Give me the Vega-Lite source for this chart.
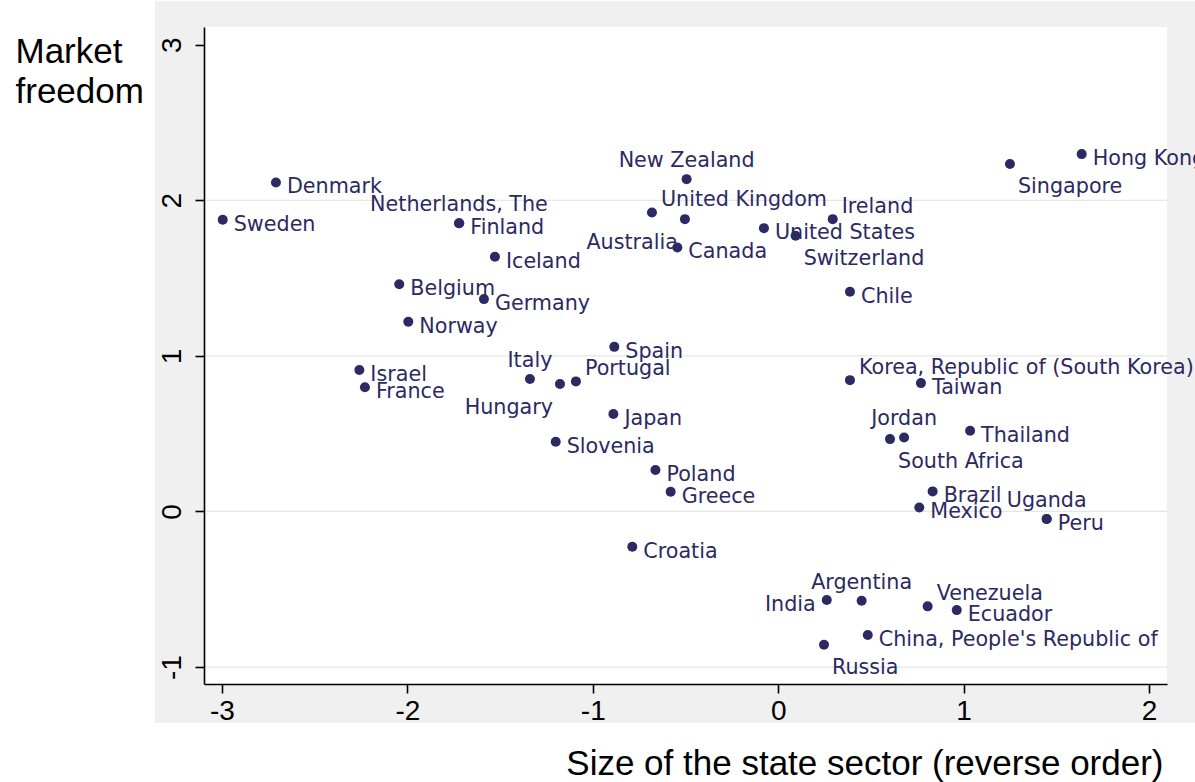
{
  "$schema": "https://vega.github.io/schema/vega-lite/v6.json",
  "width": 963,
  "height": 657,
  "autosize": {"type": "none"},
  "padding": {"left": 204, "top": 27, "right": 28, "bottom": 98},
  "background": "white",
  "config": {
    "view": {"stroke": null},
    "text": {"font": "DejaVu Sans", "fontSize": 20.7, "fill": "#2b2a62"}
  },
  "datasets": {
    "grid": [{"tick": -1}, {"tick": 0}, {"tick": 1}, {"tick": 2}],
    "countries": [
      {"country": "Sweden", "state": -2.996, "market": 1.875},
      {"country": "Denmark", "state": -2.709, "market": 2.115},
      {"country": "Netherlands, The", "state": -1.722, "market": 1.853},
      {"country": "Finland", "state": -1.720, "market": 1.852},
      {"country": "Iceland", "state": -1.528, "market": 1.637},
      {"country": "Belgium", "state": -2.044, "market": 1.461},
      {"country": "Germany", "state": -1.587, "market": 1.365},
      {"country": "Norway", "state": -1.995, "market": 1.219},
      {"country": "Spain", "state": -0.884, "market": 1.058},
      {"country": "Israel", "state": -2.259, "market": 0.909},
      {"country": "France", "state": -2.229, "market": 0.798},
      {"country": "Italy", "state": -1.339, "market": 0.851},
      {"country": "Hungary", "state": -1.177, "market": 0.819},
      {"country": "Portugal", "state": -1.091, "market": 0.836},
      {"country": "Japan", "state": -0.889, "market": 0.626},
      {"country": "Slovenia", "state": -1.200, "market": 0.448},
      {"country": "Poland", "state": -0.662, "market": 0.266},
      {"country": "Greece", "state": -0.580, "market": 0.127},
      {"country": "Croatia", "state": -0.787, "market": -0.227},
      {"country": "New Zealand", "state": -0.494, "market": 2.136},
      {"country": "United Kingdom", "state": -0.681, "market": 1.922},
      {"country": "Australia", "state": -0.503, "market": 1.879},
      {"country": "Canada", "state": -0.544, "market": 1.697},
      {"country": "United States", "state": -0.077, "market": 1.821},
      {"country": "Switzerland", "state": 0.094, "market": 1.772},
      {"country": "Ireland", "state": 0.294, "market": 1.879},
      {"country": "Chile", "state": 0.387, "market": 1.412},
      {"country": "Hong Kong", "state": 1.637, "market": 2.297},
      {"country": "Singapore", "state": 1.250, "market": 2.233},
      {"country": "Korea, Republic of (South Korea)", "state": 0.387, "market": 0.844},
      {"country": "Taiwan", "state": 0.770, "market": 0.825},
      {"country": "Jordan", "state": 0.679, "market": 0.476},
      {"country": "South Africa", "state": 0.603, "market": 0.465},
      {"country": "Thailand", "state": 1.035, "market": 0.519},
      {"country": "Brazil", "state": 0.833, "market": 0.129},
      {"country": "Mexico", "state": 0.761, "market": 0.026},
      {"country": "Uganda", "state": 1.448, "market": -0.048},
      {"country": "Peru", "state": 1.448, "market": -0.049},
      {"country": "Argentina", "state": 0.450, "market": -0.574},
      {"country": "India", "state": 0.262, "market": -0.569},
      {"country": "Venezuela", "state": 0.806, "market": -0.610},
      {"country": "Ecuador", "state": 0.963, "market": -0.634},
      {"country": "China, People's Republic of", "state": 0.483, "market": -0.794},
      {"country": "Russia", "state": 0.247, "market": -0.857}
    ]
  },
  "data": {"name": "countries"},
  "layer": [
    {
      "mark": {"type": "rect", "fill": "#f0f0f0", "clip": false},
      "encoding": {
        "x": {"datum": -3.361, "type": "quantitative"},
        "x2": {"datum": 2.3},
        "y": {"datum": 3.28, "type": "quantitative"},
        "y2": {"datum": -1.36}
      }
    },
    {
      "mark": {"type": "rect", "fill": "white", "clip": false},
      "encoding": {
        "x": {"datum": -3.097, "type": "quantitative"},
        "x2": {"datum": 2.097},
        "y": {"datum": 3.114, "type": "quantitative"},
        "y2": {"datum": -1.109}
      }
    },
    {
      "data": {"name": "grid"},
      "mark": {"type": "rule", "color": "#e6e6e6", "strokeWidth": 1.3},
      "encoding": {"y": {"field": "tick", "type": "quantitative"}}
    },
    {
      "mark": {"type": "point", "shape": "circle", "filled": true, "size": 100, "color": "#2b2a62", "opacity": 1},
      "encoding": {
        "x": {
          "field": "state", "type": "quantitative",
          "scale": {"domain": [-3.097, 2.097], "nice": false, "zero": false},
          "axis": {
            "values": [-3, -2, -1, 0, 1, 2],
            "labelExpr": "'' + datum.value",
            "grid": false,
            "zindex": 1,
            "domainColor": "#000000", "domainWidth": 1.6,
            "tickColor": "#000000", "tickWidth": 1.6, "tickSize": 9,
            "labelFont": "Liberation Sans", "labelFontSize": 28, "labelColor": "#000000",
            "labelPadding": 4, "labelFlush": false,
            "title": "Size of the state sector (reverse order)",
            "titleFont": "Liberation Sans", "titleFontSize": 35, "titleFontWeight": "normal", "titleColor": "#000000",
            "titleAlign": "right", "titleBaseline": "alphabetic", "titleX": 959, "titleY": 90
          }
        },
        "y": {
          "field": "market", "type": "quantitative",
          "scale": {"domain": [-1.109, 3.114], "nice": false, "zero": false},
          "axis": {
            "values": [-1, 0, 1, 2, 3],
            "labelExpr": "'' + datum.value",
            "grid": false,
            "zindex": 1,
            "domainColor": "#000000", "domainWidth": 1.6,
            "tickColor": "#000000", "tickWidth": 1.6, "tickSize": 9,
            "labelFont": "Liberation Sans", "labelFontSize": 28, "labelColor": "#000000",
            "labelAngle": -90, "labelAlign": "center", "labelBaseline": "alphabetic",
            "labelPadding": 15, "labelFlush": false,
            "title": ["Market", "freedom"],
            "titleFont": "Liberation Sans", "titleFontSize": 35, "titleFontWeight": "normal", "titleColor": "#000000",
            "titleAngle": 0, "titleAlign": "left", "titleBaseline": "alphabetic",
            "titleX": -189, "titleY": 35, "titleLineHeight": 40
          }
        }
      }
    },
    {
      "transform": [{"filter": {"not": {"field": "country", "oneOf": ["Netherlands, The", "Italy", "New Zealand", "Jordan", "Uganda", "Argentina", "United Kingdom", "Portugal", "Ireland", "Korea, Republic of (South Korea)", "Venezuela", "Switzerland", "Singapore", "South Africa", "Russia", "Hungary", "Australia", "India"]}}}],
      "mark": {"type": "text", "align": "left", "baseline": "middle", "dx": 11, "dy": 5, "clip": false},
      "encoding": {"x": {"field": "state", "type": "quantitative"}, "y": {"field": "market", "type": "quantitative"}, "text": {"field": "country"}}
    },
    {
      "transform": [{"filter": {"field": "country", "oneOf": ["Netherlands, The", "Italy", "New Zealand", "Jordan", "Uganda", "Argentina"]}}],
      "mark": {"type": "text", "align": "center", "baseline": "middle", "dx": 0, "dy": -18, "clip": false},
      "encoding": {"x": {"field": "state", "type": "quantitative"}, "y": {"field": "market", "type": "quantitative"}, "text": {"field": "country"}}
    },
    {
      "transform": [{"filter": {"field": "country", "oneOf": ["United Kingdom", "Portugal", "Ireland", "Korea, Republic of (South Korea)", "Venezuela"]}}],
      "mark": {"type": "text", "align": "left", "baseline": "middle", "dx": 9, "dy": -12, "clip": false},
      "encoding": {"x": {"field": "state", "type": "quantitative"}, "y": {"field": "market", "type": "quantitative"}, "text": {"field": "country"}}
    },
    {
      "transform": [{"filter": {"field": "country", "oneOf": ["Switzerland", "Singapore", "South Africa", "Russia"]}}],
      "mark": {"type": "text", "align": "left", "baseline": "middle", "dx": 8, "dy": 23, "clip": false},
      "encoding": {"x": {"field": "state", "type": "quantitative"}, "y": {"field": "market", "type": "quantitative"}, "text": {"field": "country"}}
    },
    {
      "transform": [{"filter": {"field": "country", "oneOf": ["Hungary", "Australia"]}}],
      "mark": {"type": "text", "align": "right", "baseline": "middle", "dx": -7, "dy": 24, "clip": false},
      "encoding": {"x": {"field": "state", "type": "quantitative"}, "y": {"field": "market", "type": "quantitative"}, "text": {"field": "country"}}
    },
    {
      "transform": [{"filter": {"field": "country", "oneOf": ["India"]}}],
      "mark": {"type": "text", "align": "right", "baseline": "middle", "dx": -11, "dy": 5, "clip": false},
      "encoding": {"x": {"field": "state", "type": "quantitative"}, "y": {"field": "market", "type": "quantitative"}, "text": {"field": "country"}}
    }
  ]
}
